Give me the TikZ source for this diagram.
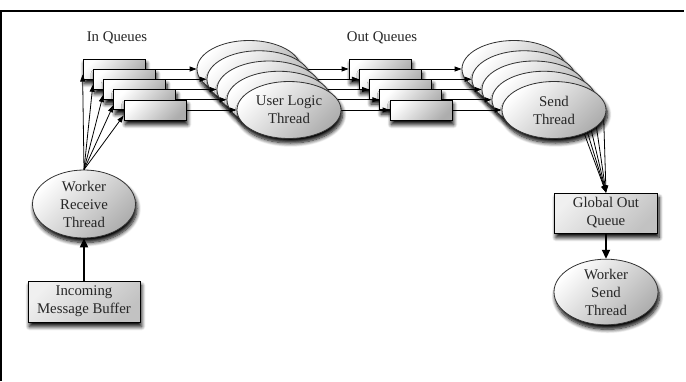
\documentclass[tikz,border=0pt]{standalone}
\usepackage{fontspec}
\setmainfont{Liberation Serif}
\usetikzlibrary{shapes.geometric,arrows.meta,shadows.blur}
\begin{document}
\begin{tikzpicture}[x=1pt,y=-1pt,
  every node/.style={font=\fontsize{14.8}{18}\selectfont, text=black!85, align=center},
  softshadow/.style={blur shadow={shadow xshift=1.5pt, shadow yshift=-4.5pt, shadow blur radius=4pt, shadow opacity=100, shadow blur steps=8}},
  shade3d/.style={top color=white, bottom color=black!32, shading angle=45},
  qbox/.style={draw=black, line width=0.8pt, minimum width=62pt, minimum height=20pt, inner sep=0pt, shade3d, softshadow},
  bigbox/.style={draw=black, line width=0.9pt, inner sep=0pt, top color=black!6, bottom color=black!24, shading angle=45, softshadow},
  thread/.style={ellipse, draw=black!80, line width=0.8pt, inner sep=0pt, shade3d, softshadow},
  stackshape/.style={ellipse, inner sep=0pt, minimum width=104pt, minimum height=57pt},
  stackell/.style={thread, minimum width=104pt, minimum height=57pt},
  thinarrow/.style={draw=black, line width=0.8pt, -{Triangle[length=7pt,width=5pt]}},
  thickarrow/.style={draw=black, line width=2pt, -{Triangle[length=9pt,width=8pt]}},
  caption/.style={inner sep=0pt}
]
\useasboundingbox (0,0) rectangle (686,381);

% frame
\draw[line width=2.3pt] (1,381) -- (1,11) -- (684,11);

% labels
\node[caption] (inq) at (117,38) {In Queues};
\node[caption] (outq) at (382,38) {Out Queues};

% queue boxes
\foreach \i in {1,...,5} {
  \node[qbox] (q\i) at ({114+10.25*(\i-1)}, {69+10.25*(\i-1)}) {};
}
\foreach \i in {1,...,5} {
  \node[qbox] (o\i) at ({380+10.25*(\i-1)}, {69+10.25*(\i-1)}) {};
}
\node[bigbox, minimum width=103pt, minimum height=40pt] (go) at (606,213) {Global Out\\Queue};

% outline places of the stacked ellipses (not drawn)
\foreach \i in {1,...,5} {
  \node[stackshape] (ulb\i) at ({249+10*(\i-1)}, {69+10.25*(\i-1)}) {};
  \node[stackshape] (sb\i) at ({514+10*(\i-1)}, {69+10.25*(\i-1)}) {};
}

% connectors that run behind the stacks
\foreach \i in {1,...,5} {
  \draw[thinarrow] (ulb\i.east) -- (o\i.west);
  \draw[thinarrow] (sb\i.-10) -- (go.north);
}

% stacked thread ellipses
\foreach \i in {1,...,4} {
  \node[stackell] (ul\i) at (ulb\i) {};
}
\node[stackell] (ul5) at (ulb5) {User Logic\\Thread};
\foreach \i in {1,...,4} {
  \node[stackell] (s\i) at (sb\i) {};
}
\node[stackell] (s5) at (sb5) {Send\\Thread};

% other nodes
\node[thread, minimum width=103pt, minimum height=68pt] (wr) at (84,204) {Worker\\Receive\\Thread};
\node[bigbox, minimum width=112pt, minimum height=41pt] (inc) at (84,301.5) {Incoming\\Message Buffer};
\node[thread, minimum width=104pt, minimum height=58pt] (ws) at (606,292) {Worker\\Send\\Thread};

% connectors on top
\foreach \i in {1,...,5} {
  \draw[thinarrow] (q\i.east) -- (ul\i.west);
  \draw[thinarrow] (o\i.east) -- (s\i.west);
  \draw[thinarrow] (wr.north) -- (q\i.190);
}
\draw[thickarrow] (inc.north) -- (wr.south);
\draw[thickarrow] (go.south) -- (ws.north);
\end{tikzpicture}
\end{document}
